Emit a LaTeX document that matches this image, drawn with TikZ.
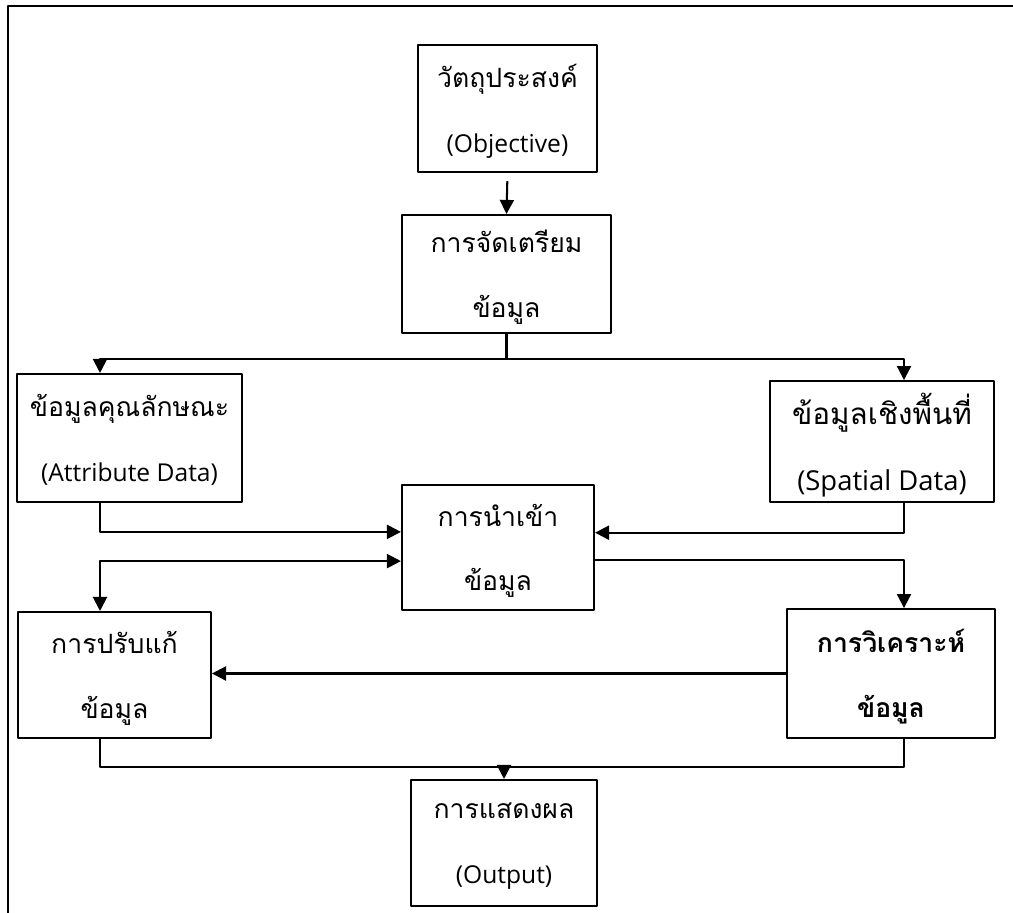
\documentclass[tikz,border=0pt]{standalone}
\usepackage{fontspec}
\setmainfont{Open Sans}
\newfontfamily\thaifont[Script=Thai,Scale=1.08]{Loma}
\usetikzlibrary{arrows.meta}
\begin{document}
\begin{tikzpicture}[x=0.025cm, y=-0.025cm, line width=1.45pt, line join=round, >={Triangle[length=10pt,width=10pt]},
	box/.style={draw, align=center, inner sep=0pt, text depth=0pt, font=\fontsize{17.5}{46}\selectfont}]
	\useasboundingbox (0,0) rectangle (1013,913);
	\draw (8,913) -- (8,6) -- (1013,6);
	\coordinate (lcol) at (100,0);
	\coordinate (rcol) at (904,0);
	% boxes
	\node[box, minimum width=4.48cm, minimum height=3.18cm] (obj) at (507.5,108.5) {{\thaifont วัตถุประสงค์}\\(Objective)};
	\node[box, minimum width=5.22cm, minimum height=2.95cm] (prep) at (506.5,274) {\thaifont การจัดเตรียม\\\thaifont ข้อมูล};
	\node[box, minimum width=5.62cm, minimum height=3.2cm] (attr) at (129.5,438) {{\thaifont ข้อมูลคุณลักษณะ}\\(Attribute Data)};
	\node[box, minimum width=5.6cm, minimum height=3.02cm, font=\fontsize{19.5}{47}\selectfont] (spat) at (882,441.5) {{\thaifont ข้อมูลเชิงพื้นที่}\\(Spatial Data)};
	\node[box, minimum width=4.8cm, minimum height=3.12cm] (imp) at (498,547.5) {\thaifont การนำเข้า\\\thaifont ข้อมูล};
	\node[box, minimum width=4.82cm, minimum height=3.15cm] (edit) at (114.5,675) {\thaifont การปรับแก้\\\thaifont ข้อมูล};
	\node[box, minimum width=5.2cm, minimum height=3.22cm] (anal) at (891,673.5) {\thaifont\bfseries การวิเคราะห์\\\thaifont\bfseries ข้อมูล};
	\node[box, minimum width=4.65cm, minimum height=3.15cm] (out) at (504,843) {{\thaifont การแสดงผล}\\(Output)};
	% connectors
	\draw[->, shorten <=0.2cm] (obj.south) -- (prep.north);
	\draw (prep.south) -- ++(0,25) coordinate (split);
	\draw[->] (split) -| (lcol |- attr.north);
	\draw[->] (split) -| (rcol |- spat.north);
	\draw[->] (lcol |- attr.south) |- ([yshift=0.39cm]imp.west);
	\draw[->] (rcol |- spat.south) |- ([yshift=0.37cm]imp.east);
	\draw[<->] (lcol |- edit.north) |- ([yshift=-0.34cm]imp.west);
	\draw[->] ([yshift=-0.32cm]imp.east) -| (rcol |- anal.north);
	\draw[->] (anal.west) -- (anal.west -| edit.east);
	\draw (lcol |- edit.south) -- ++(0,28) coordinate (merge) -- (merge -| rcol) -- (rcol |- anal.south);
	\draw[->] (merge -| out.north) -- (out.north);
\end{tikzpicture}
\end{document}
